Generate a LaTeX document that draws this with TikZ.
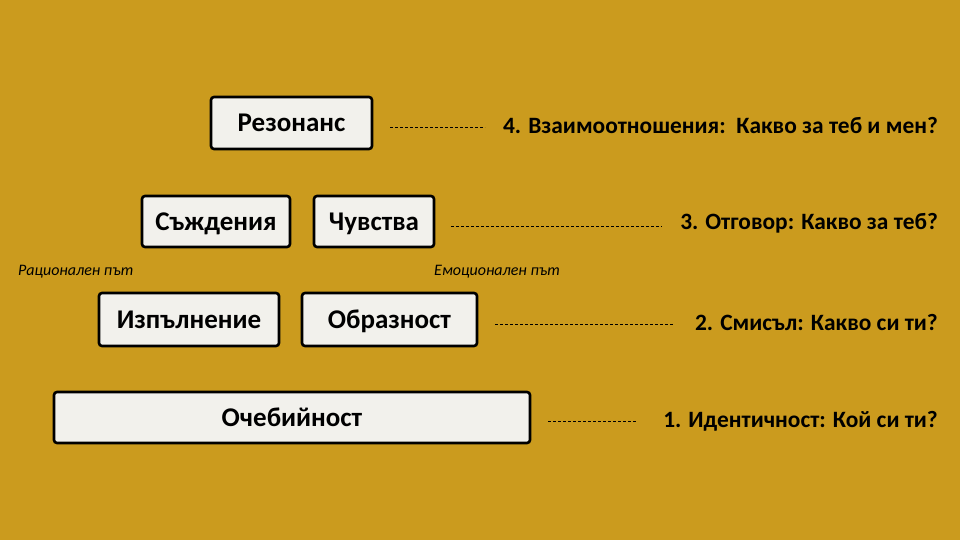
\documentclass[tikz,border=0pt]{standalone}
\usepackage{fontspec}
\setmainfont{Carlito}
\usetikzlibrary{positioning}
\definecolor{bg}{RGB}{203,155,30}
\definecolor{paper}{RGB}{242,241,236}
\begin{document}
\begin{tikzpicture}[x=1pt,y=-1pt,
  card/.style={draw=black,line width=2.6pt,fill=paper,rounded corners=3pt,font=\bfseries\fontsize{27}{32}\selectfont,inner sep=0pt,text height=17.4pt,text depth=0pt},
  lbl/.style={anchor=east,font=\bfseries\fontsize{23.4}{28}\selectfont,inner sep=0pt,text height=15pt,text depth=0pt},
  path/.style={font=\itshape\fontsize{16}{19}\selectfont,inner sep=0pt,anchor=west,text height=10.3pt,text depth=0pt},
  conn/.style={line width=0.6pt,dash pattern=on 3pt off 2pt}]
\fill[bg] (0,0) rectangle (960,540);
\useasboundingbox (0,0) rectangle (960,540);
\node[card,minimum width=161pt,minimum height=52pt] (res) at (291.5,123) {Резонанс};
\node[card,minimum width=148pt,minimum height=51pt] (sad) at (216,221.5) {Съждения};
\node[card,minimum width=120pt,minimum height=51pt] (chu) at (374,221.5) {Чувства};
\node[card,minimum width=180pt,minimum height=53pt] (izp) at (189,319.5) {Изпълнение};
\node[card,minimum width=175pt,minimum height=53pt] (obr) at (389.5,319.5) {Образност};
\node[card,minimum width=476pt,minimum height=51pt] (och) at (292,417.5) {Очебийност};
\node[lbl] (l4) at (938,126) {4. Взаимоотношения:\ \ Какво за теб и мен?};
\node[lbl] (l3) at (938,222) {3. Отговор: Какво за теб?};
\node[lbl] (l2) at (938,323) {2. Смисъл: Какво си ти?};
\node[lbl] (l1) at (938,420) {1. Идентичност: Кой си ти?};
\node[path] (rp) at (18,270) {Рационален път};
\node[path] (ep) at (434,270) {Емоционален път};
\coordinate (a4) at (390,127); \coordinate (b4) at (485,127);
\coordinate (a3) at (451,226); \coordinate (b3) at (662,226);
\coordinate (a2) at (495,324); \coordinate (b2) at (673,324);
\coordinate (a1) at (548,421); \coordinate (b1) at (637,421);
\draw[conn] (a4) -- (b4);
\draw[conn] (a3) -- (b3);
\draw[conn] (a2) -- (b2);
\draw[conn] (a1) -- (b1);
\end{tikzpicture}
\end{document}
